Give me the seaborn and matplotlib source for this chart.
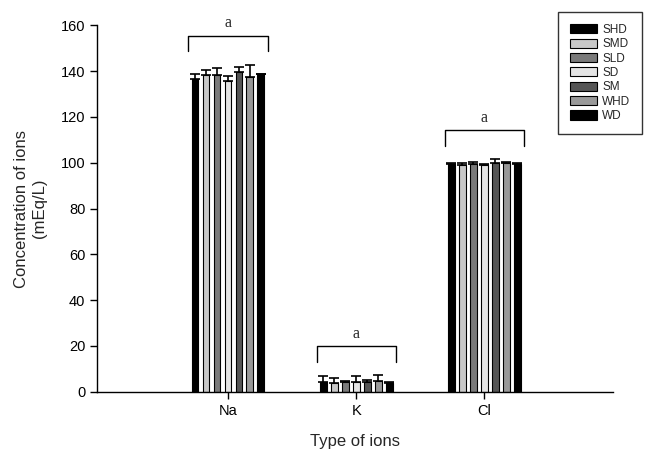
import matplotlib
matplotlib.use("Agg")
import matplotlib.pyplot as plt
import numpy as np
import pandas as pd
import seaborn as sns

ions = ["Na", "K", "Cl"]
groups = ["SHD", "SMD", "SLD", "SD", "SM", "WHD", "WD"]
colors = ["#000000", "#c8c8c8", "#7a7a7a", "#e4e4e4", "#555555", "#999999", "#000000"]

# mean per group, one list per ion
na_mean = [136.7, 138.2, 138.2, 135.6, 139.6, 137.2, 138.9]
k_mean = [4.5, 3.8, 4.1, 4.1, 4.5, 4.9, 3.8]
cl_mean = [99.4, 99.0, 99.4, 99.0, 100.0, 99.7, 99.4]

# upper error bars
na_err = [2.0, 2.4, 3.0, 2.2, 2.0, 5.3, 0.0]
k_err = [2.4, 2.2, 0.8, 2.6, 0.8, 2.5, 0.3]
cl_err = [0.3, 0.8, 1.0, 0.5, 1.4, 0.5, 0.6]

# significance brackets
bracket_top = [155.3, 19.8, 114.2]
bracket_drop = 6.7
bracket_text = ["a", "a", "a"]

means = {"Na": na_mean, "K": k_mean, "Cl": cl_mean}
errs = {"Na": na_err, "K": k_err, "Cl": cl_err}

rows = []
for ion in ions:
    for g, v in zip(groups, means[ion]):
        rows.append({"ion": ion, "group": g, "value": v})
df = pd.DataFrame(rows)

sns.set_style("ticks")
plt.rcParams["font.family"] = ["Liberation Sans", "DejaVu Sans"]

fig, ax = plt.subplots(figsize=(6.56, 4.67), dpi=100)
fig.subplots_adjust(left=0.148, right=0.934, bottom=0.161, top=0.946)

sns.barplot(data=df, x="ion", y="value", hue="group", order=ions, hue_order=groups,
            palette=colors, width=0.6, gap=0.38, edgecolor="black", linewidth=0.8,
            errorbar=None, ax=ax)
bars = list(ax.containers)

for container, g in zip(bars, groups):
    xs = [p.get_x() + p.get_width() / 2 for p in container]
    ys = [p.get_height() for p in container]
    up = [errs[ion][groups.index(g)] for ion in ions]
    ax.errorbar(xs, ys, yerr=[np.zeros(len(up)), up], fmt="none", ecolor="black",
                elinewidth=1.2, capsize=3.6, capthick=1.2)

for i, ion in enumerate(ions):
    left = min(c[i].get_x() for c in bars) - 0.025
    right = max(c[i].get_x() + c[i].get_width() for c in bars) + 0.025
    top = bracket_top[i]
    ax.plot([left, left, right, right], [top - bracket_drop, top, top, top - bracket_drop],
            color="black", lw=1.0, clip_on=False)
    ax.text((left + right) / 2, top + 2.0, bracket_text[i], ha="center", va="bottom",
            family="Liberation Serif", fontsize=11.5, clip_on=False)

handles, labels = ax.get_legend_handles_labels()
ax.get_legend().remove()
leg = fig.legend(handles, labels, loc="upper right", bbox_to_anchor=(0.979, 0.974),
                 borderaxespad=0, fontsize=8.5, frameon=True, fancybox=False,
                 edgecolor="black", handlelength=2.3, handleheight=0.8, labelspacing=0.2,
                 borderpad=1.0, handletextpad=0.45)
leg.get_frame().set_linewidth(1.0)

ax.set_xlim(-1.02, 3.0)
ax.set_ylim(0, 160)
ax.set_yticks(np.arange(0, 161, 20))
ax.set_xlabel("Type of ions", fontsize=12, labelpad=12)
ax.set_ylabel("Concentration of ions\n(mEq/L)", fontsize=12, labelpad=10)
ax.tick_params(axis="both", labelsize=10.5, length=5, width=1, direction="out", colors="black")
for s in ["left", "bottom"]:
    ax.spines[s].set_color("black")
    ax.spines[s].set_linewidth(1.0)
sns.despine(ax=ax)

fig.savefig("out.png", dpi=100)
